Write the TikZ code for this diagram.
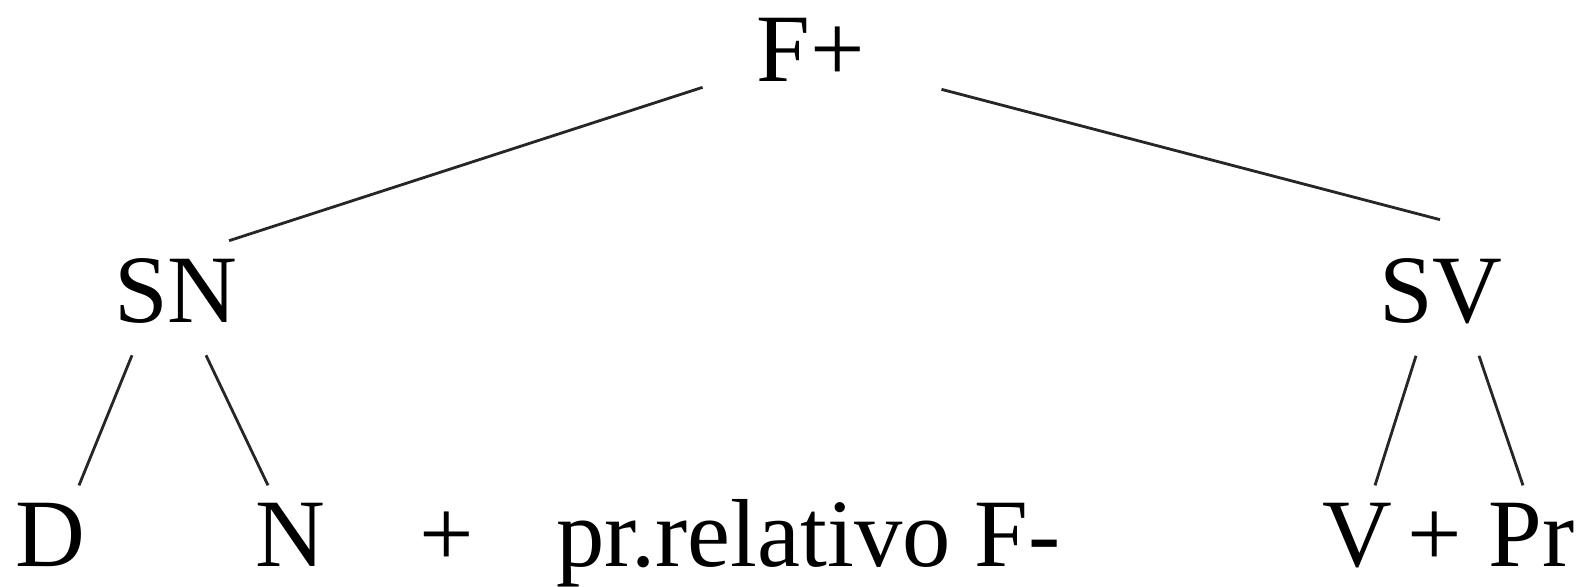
\documentclass[tikz,border=0pt]{standalone}
\usepackage{fontspec}
\setmainfont{Liberation Serif}
\usepackage{tikz}
\tikzset{
  lbl/.style={font=\fontsize{55}{60}\selectfont,inner sep=0pt,anchor=base},
  lblw/.style={lbl,anchor=base west},
  br/.style={line width=1.6pt,black!85}
}
\begin{document}
\begin{tikzpicture}[x=0.02cm,y=-0.02cm]
\useasboundingbox (0,0) rectangle (1588,587);
\node[lbl] (fp) at (811,82) {F+};
\node[lbl] (sn) at (176,323) {SN};
\node[lbl] (sv) at (1441,323) {SV};
\node[lbl] (d) at (50,566) {D};
\node[lbl] (n) at (290,566) {N};
\node[lbl] (pl) at (447,566) {+};
\node[lblw] (rel) at (556,566) {pr.relativo F-};
\node[lblw] (vp) at (1322,566) {V\hspace{9pt}+\hspace{15pt}Pr};
% branches
\draw[br] ([shift={(-54,5)}]fp.south west) -- ([shift={(-9,-18)}]sn.north east);
\draw[br] ([shift={(76,7)}]fp.south east) -- ([shift={(-1,-39)}]sv.north);
\draw[br] ([shift={(-44,31)}]sn.south) -- ([shift={(29,-17)}]d.north);
\draw[br] ([shift={(30,31)}]sn.south) -- ([shift={(-22,-17)}]n.north);
\draw[br] ([shift={(-25,31)}]sv.south) -- ([shift={(53,-17)}]vp.north west);
\draw[br] ([shift={(38,31)}]sv.south) -- ([shift={(201,-17)}]vp.north west);
\end{tikzpicture}
\end{document}
